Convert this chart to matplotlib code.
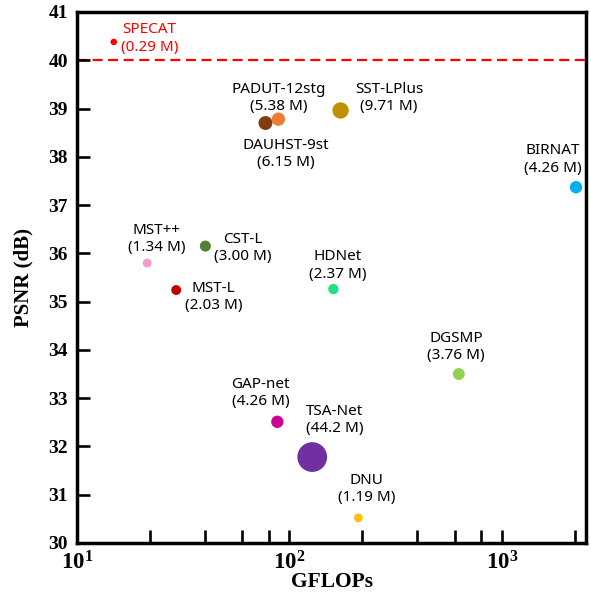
import matplotlib
matplotlib.use("Agg")
import matplotlib.pyplot as plt
import numpy as np

# data
methods = ["SPECAT", "PADUT-12stg", "DAUHST-9st", "SST-LPlus", "BIRNAT",
           "MST++", "CST-L", "MST-L", "HDNet", "GAP-net", "TSA-Net",
           "DNU", "DGSMP"]
gflops = [14.9, 88.7, 77.1, 174, 2233, 21.4, 40.2, 29.3, 161, 87.7, 128, 211, 627]
psnr = [40.38, 38.78, 38.70, 38.96, 37.37, 35.80, 36.15, 35.24, 35.26,
        32.51, 31.78, 30.52, 33.50]
params = ["0.29", "5.38", "6.15", "9.71", "4.26", "1.34", "3.00", "2.03",
          "2.37", "4.26", "44.2", "1.19", "3.76"]

colors = ["#FF0000", "#ED7D31", "#843C0C", "#BF9000", "#00B0F0", "#F59BCB",
          "#548235", "#C00000", "#20E37F", "#CC0099", "#7030A0", "#FFC000",
          "#92D050"]
# label offsets (points) and horizontal alignment
offsets = [(5, 2.5), (0, 15.5), (14.5, -22.5), (35, 9), (-17, 20),
           (7, 17.5), (27, -1.5), (27, -5), (3, 17), (-12, 21), (16, 26.5),
           (6, 20.5), (-2, 19.5)]
aligns = ["left"] + ["center"] * 12

plt.rcParams["mathtext.fontset"] = "custom"
plt.rcParams["mathtext.rm"] = "Liberation Serif:bold"
plt.rcParams["mathtext.it"] = "Liberation Serif:bold"
plt.rcParams["mathtext.bf"] = "Liberation Serif:bold"
plt.rcParams["mathtext.default"] = "bf"

fig = plt.figure(figsize=(5.91, 5.97), dpi=100)
ax = fig.add_axes([0.1303, 0.0905, 0.8613, 0.8894])

ax.axhline(40, color="#FF0000", lw=1.6, ls="--", dashes=(4.5, 2.5), zorder=1)

p = np.array([float(v) for v in params])
diam = 4.5 + 3.8 * np.sqrt(p)          # marker diameter in px
sizes = (diam * 0.72) ** 2
ax.scatter(gflops, psnr, s=sizes, c=colors, edgecolors="none", zorder=3)

for i, name in enumerate(methods):
    tcol = "#FF0000" if name == "SPECAT" else "black"
    ax.annotate(f"{name}\n({params[i]} M)", (gflops[i], psnr[i]),
                xytext=offsets[i], textcoords="offset points",
                ha=aligns[i], va="center", multialignment="center",
                fontsize=11, family="Noto Sans", color=tcol,
                linespacing=1.2, zorder=4)

ax.set_xscale("log")
ax.set_xlim(10, 2489)
ax.set_ylim(30, 41)
ax.set_xticks([10, 100, 1000])
ax.set_xticks([22, 40, 60, 80, 220, 400, 600, 800, 2200], minor=True)
ax.set_xticklabels([r"$10^{1}$", r"$10^{2}$", r"$10^{3}$"], minor=False)
ax.set_xticklabels([], minor=True)
ax.set_yticks(range(30, 42))

ax.tick_params(axis="both", which="both", direction="in", length=9.4,
               width=1.9, top=False, right=False)
ax.tick_params(axis="y", pad=6.5)
ax.tick_params(axis="x", pad=6)
for lab in ax.get_yticklabels():
    lab.set_fontfamily("Liberation Serif")
    lab.set_fontweight("bold")
    lab.set_fontsize(14)
for lab in ax.get_xticklabels():
    lab.set_fontsize(16.5)

for sp in ax.spines.values():
    sp.set_linewidth(2.5)

ax.set_xlabel("GFLOPs", family="Liberation Serif", fontweight="bold",
              fontsize=15.5, va="center")
ax.set_ylabel("PSNR (dB)", family="Liberation Serif", fontweight="bold",
              fontsize=15, va="center")
ax.xaxis.set_label_coords(0.5, -0.0735)
ax.yaxis.set_label_coords(-0.106, 0.5)

fig.savefig("out.png", dpi=100, facecolor="white")
